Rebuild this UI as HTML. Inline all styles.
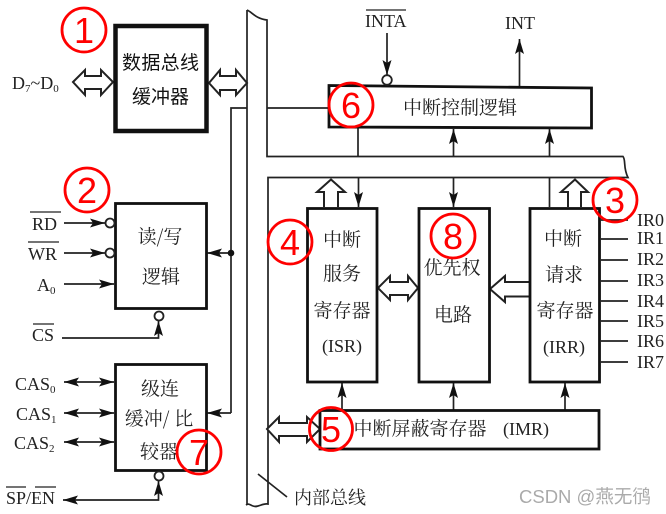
<!DOCTYPE html>
<html><head><meta charset="utf-8">
<style>
html,body{margin:0;padding:0;background:#fff;}
svg{display:block;filter:blur(0.35px);}
.s{font-family:"Liberation Serif","Noto Serif CJK SC",serif;fill:#222;}
.c{font-family:"Noto Serif CJK SC","Liberation Serif",serif;fill:#222;font-size:19px;text-anchor:middle;}
.k{font-family:"Noto Sans CJK SC",sans-serif;fill:#111;font-size:19px;text-anchor:middle;}
.n{font-family:"Liberation Sans",sans-serif;fill:#f00;font-size:36px;text-anchor:middle;}
.sub{font-size:11px;}
</style></head><body>
<svg width="666" height="514" viewBox="0 0 666 514" xmlns="http://www.w3.org/2000/svg">
<defs>
<marker id="a" markerWidth="16" markerHeight="10" refX="15" refY="5" orient="auto-start-reverse" markerUnits="userSpaceOnUse"><path d="M0,0.5L15,5L0,9.500L3,5Z" fill="#111"/></marker>
</defs>
<rect width="666" height="514" fill="#fff"/>
<g fill="none" stroke="#222" stroke-width="1.700">
<!-- bus -->
<path d="M247,10 L247,505 M247,10 C252,12 256,19 267,20 L267,156.500 L623,156.500 C626,160 623,168 628,177.500 L268,177.500 L268,504 C262,503 258,508 253,506 C250,505 249,503 246,505"/>
<path d="M267,108 L329,108"/>
<path d="M247,108 L231,108 L231,413"/>
<path d="M258,474 L287,497"/>
<path d="M231,253 L207,253" marker-end="url(#a)"/>
<path d="M231,413 L207,413" marker-end="url(#a)"/>
<!-- INT / INTA -->
<path d="M387,33 L387,75" marker-end="url(#a)"/>
<path d="M519.500,86 L519.500,39" marker-end="url(#a)"/>
<!-- vertical links -->
<path d="M358,128 L358,156"/>
<path d="M453.500,156 L453.500,129" marker-end="url(#a)"/>
<path d="M549.500,156 L549.500,129" marker-end="url(#a)"/>
<path d="M358.500,177 L358.500,207" marker-end="url(#a)"/>
<path d="M453.500,177 L453.500,207" marker-end="url(#a)"/>
<path d="M549.500,177 L549.500,207"/>
<path d="M342,410 L342,383" marker-end="url(#a)"/>
<path d="M453.500,410 L453.500,383" marker-end="url(#a)"/>
<path d="M565,410 L565,383" marker-end="url(#a)"/>
<!-- left inputs -->
<path d="M64,223 L105,223" marker-end="url(#a)"/>
<path d="M64,253 L105,253" marker-end="url(#a)"/>
<path d="M64,284 L114,284" marker-end="url(#a)"/>
<path d="M62,338 L158.500,338 L158.500,321" marker-end="url(#a)"/>
<path d="M64,382 L114,382" marker-start="url(#a)" marker-end="url(#a)"/>
<path d="M64,413 L114,413" marker-start="url(#a)" marker-end="url(#a)"/>
<path d="M64,442 L114,442" marker-start="url(#a)" marker-end="url(#a)"/>
<path d="M63,500 L158.500,500 L158.500,481" marker-start="url(#a)" marker-end="url(#a)"/>
<!-- IR lines -->
<path d="M601,220H628M601,239H628M601,260H628M601,281H628M601,301H628M601,321H628M601,341H628M601,362H628"/>
</g>
<!-- hollow arrows -->
<g fill="#fff" stroke="#222" stroke-width="2">
<path d="M73,82 L85,70 L85,76 L101,76 L101,70 L113,82 L101,95 L101,89 L85,89 L85,95 Z"/>
<path d="M209,83 L220,70 L220,76 L236,76 L236,70 L247,83 L236,95 L236,90 L220,90 L220,95 Z"/>
<path d="M378,288 L390,276 L390,282 L408,282 L408,276 L418,288 L408,300 L408,295 L390,295 L390,300 Z"/>
<path d="M267,429 L279,417 L279,423 L307,423 L307,417 L320,429 L307,442 L307,436 L279,436 L279,442 Z"/>
<path d="M490,289 L505,276 L505,282 L530,282 L530,296.500 L505,296.500 L505,302 Z"/>
<path d="M338,207 L338,192 L345,192 L331,179.500 L317,192 L324,192 L324,207"/>
<path d="M568,207 L568,192 L561,192 L575,179.500 L588,192 L581,192 L581,207"/>
</g>
<!-- boxes -->
<g fill="#fff" stroke="#111">
<rect x="115.500" y="26" width="91" height="105" stroke-width="4.500"/>
<rect x="115.500" y="203.500" width="91" height="105" stroke-width="2.800"/>
<rect x="115.500" y="364.500" width="91" height="106" stroke-width="2.800"/>
<path d="M329,85.500 L591.500,88 L591.500,128 L329,127 Z" stroke-width="2.800"/>
<rect x="307.500" y="208.500" width="69.500" height="173.500" stroke-width="2.800"/>
<rect x="419" y="208.500" width="70.500" height="173.500" stroke-width="2.800"/>
<rect x="530" y="208.500" width="69.500" height="173.500" stroke-width="2.800"/>
<rect x="320" y="410.500" width="279" height="38.500" stroke-width="2.800"/>
</g>
<g fill="#fff" stroke="#222" stroke-width="1.800">
<circle cx="387" cy="80" r="4.800"/>
<circle cx="110" cy="223" r="4.500"/>
<circle cx="110" cy="253" r="4.500"/>
<circle cx="159" cy="316" r="4.500"/>
<circle cx="159" cy="476" r="4.500"/>
</g>
<circle cx="231" cy="253" r="3.300" fill="#111"/>
<!-- Chinese labels -->
<text class="k" x="160.500" y="69" textLength="77">数据总线</text>
<text class="k" x="160.500" y="103" textLength="57">缓冲器</text>
<text class="c" x="160" y="243">读/写</text>
<text class="c" x="161" y="283">逻辑</text>
<text class="c" x="160" y="395">级连</text>
<text class="c" x="159" y="425">缓冲/ 比</text>
<text class="c" x="159" y="458">较器</text>
<text class="c" x="342" y="246">中断</text>
<text class="c" x="342" y="280">服务</text>
<text class="c" x="342" y="317">寄存器</text>
<text class="s" x="342" y="352" font-size="18" text-anchor="middle">(ISR)</text>
<text class="c" x="452" y="274">优先权</text>
<text class="c" x="453" y="321">电路</text>
<text class="c" x="563" y="245">中断</text>
<text class="c" x="564" y="281">请求</text>
<text class="c" x="565" y="317">寄存器</text>
<text class="s" x="564" y="353" font-size="18" text-anchor="middle">(IRR)</text>
<text class="c" x="460" y="114">中断控制逻辑</text>
<text class="c" x="420" y="435">中断屏蔽寄存器</text>
<text class="s" x="503" y="435" font-size="18">(IMR)</text>
<text class="c" x="330" y="504" style="font-size:18px">内部总线</text>
<!-- Latin labels -->
<g class="s" font-size="18">
<text x="12" y="89">D<tspan class="sub" dy="3">7</tspan><tspan dy="-3">~D</tspan><tspan class="sub" dy="3">0</tspan></text>
<text x="365" y="27">INTA</text><path d="M366,10H406" stroke="#222" stroke-width="1.200"/>
<text x="505" y="29">INT</text>
<text x="32" y="230">RD</text><path d="M30,212H61" stroke="#222" stroke-width="1.200"/>
<text x="28" y="260">WR</text><path d="M28,242H59" stroke="#222" stroke-width="1.200"/>
<text x="37" y="291">A<tspan class="sub" dy="3">0</tspan></text>
<text x="32" y="341">CS</text><path d="M33,324H54" stroke="#222" stroke-width="1.200"/>
<text x="15" y="390">CAS<tspan class="sub" dy="3">0</tspan></text>
<text x="16" y="420">CAS<tspan class="sub" dy="3">1</tspan></text>
<text x="14" y="449">CAS<tspan class="sub" dy="3">2</tspan></text>
<text x="6" y="504">SP/EN</text><path d="M6,487H26M35,487H56" stroke="#222" stroke-width="1.200"/>
<text x="637" y="226">IR0</text>
<text x="637" y="244">IR1</text>
<text x="637" y="265">IR2</text>
<text x="637" y="286">IR3</text>
<text x="637" y="307">IR4</text>
<text x="637" y="327">IR5</text>
<text x="637" y="347">IR6</text>
<text x="637" y="368">IR7</text>
</g>
<!-- red markers -->
<g fill="none" stroke="#f00" stroke-width="2.800">
<circle cx="84" cy="30" r="22"/>
<circle cx="87" cy="190" r="22"/>
<circle cx="615" cy="200" r="22"/>
<circle cx="290" cy="242" r="22"/>
<circle cx="331" cy="429" r="21.500"/>
<circle cx="351" cy="105" r="22"/>
<circle cx="199" cy="452" r="22"/>
<circle cx="453" cy="236" r="22"/>
</g>
<g class="n">
<text x="84" y="43">1</text>
<text x="87" y="203">2</text>
<text x="615" y="213">3</text>
<text x="290" y="255">4</text>
<text x="331" y="442">5</text>
<text x="351" y="118">6</text>
<text x="199" y="465">7</text>
<text x="453" y="249">8</text>
</g>
<text x="519" y="503" font-family="'Liberation Sans','Noto Sans CJK SC',sans-serif" font-size="18.500" fill="#aaa">CSDN @燕无鸻</text>
</svg>
</body></html>
